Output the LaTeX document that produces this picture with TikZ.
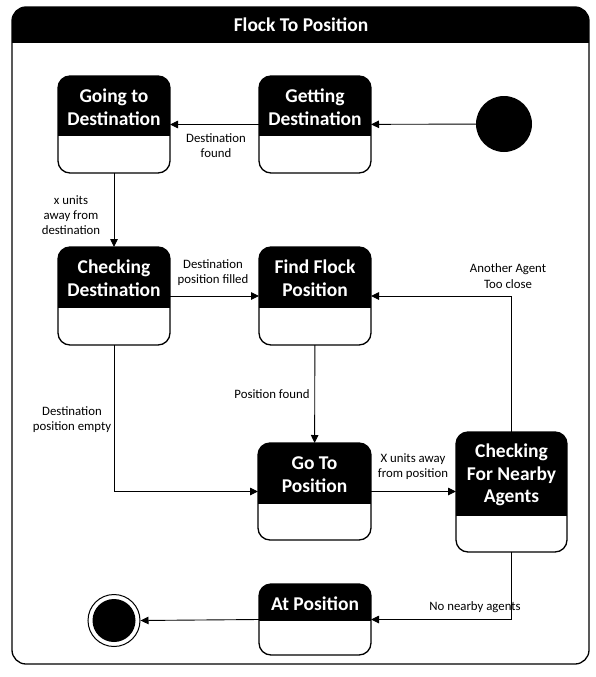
\documentclass[tikz,border=0pt]{standalone}
\usepackage{fontspec}
\setmainfont{Carlito}
\usetikzlibrary{arrows.meta}
\tikzset{
  arr/.style={line width=0.9pt,-{Triangle[length=8pt,width=7.5pt]}},
  lbl/.style={font=\fontsize{12.8}{15.2}\selectfont,align=center,inner sep=0pt},
  ttl/.style={font=\fontsize{19.5}{22.8}\selectfont\bfseries,text=white,align=center,inner sep=0pt},
  boxarea/.style={inner sep=0pt,outer sep=0pt,draw=none}
}
\newcommand\StateBox[7]{%
  \node[boxarea,minimum width={(#4-#2)*1pt},minimum height={(#5-#3)*1pt}] (#1) at ({(#2+#4)/2},{(#3+#5)/2}) {};
  \begin{scope}
    \clip[rounded corners=12pt] (#1.north west) rectangle (#1.south east);
    \fill[black] (#1.north west) rectangle (#4,#6);
  \end{scope}
  \draw[rounded corners=12pt,line width=1.3pt] (#1.north west) rectangle (#1.south east);
  \node[ttl] (#1-t) at ({(#2+#4)/2},{(#3+#6)/2+1}) {#7};
}
\begin{document}
\begin{tikzpicture}[x=1pt,y=-1pt]
\useasboundingbox (0,0) rectangle (596,677);
% frame
\node[boxarea,minimum width=577pt,minimum height=657pt] (frame) at (300.5,335.5) {};
\begin{scope}
  \clip[rounded corners=14pt] (frame.north west) rectangle (frame.south east);
  \fill[black] (frame.north west) rectangle (589,43);
\end{scope}
\draw[rounded corners=14pt,line width=1.3pt] (frame.north west) rectangle (frame.south east);
\node[ttl,font=\fontsize{19.5}{22}\selectfont\bfseries] (title) at (301,25) {Flock To Position};
% states
\StateBox{gotod}{58}{76}{170}{173}{136}{Going to\\Destination}
\StateBox{getd}{259}{76}{371}{173}{136}{Getting\\Destination}
\StateBox{chkd}{58}{247}{170}{345}{308}{Checking\\Destination}
\StateBox{find}{259}{247}{371}{345}{308}{Find Flock\\Position}
\StateBox{goto}{258}{443}{371}{540}{504}{Go To\\Position}
\StateBox{near}{456}{432}{567}{552}{516}{Checking\\For Nearby\\Agents}
\StateBox{atpos}{259}{584}{371}{655}{621}{At Position}
% start / end
\node[circle,fill=black,minimum size=56pt,inner sep=0pt] (start) at (504,124) {};
\node[circle,draw,line width=1pt,minimum size=52pt,inner sep=0pt] (endc) at (114,620.5) {};
\fill[black] (endc.center) circle (21.5);
% connectors
\draw[arr] (start) -- (getd);
\draw[arr] (getd) -- (gotod);
\draw[arr] (gotod) -- (chkd);
\draw[arr] (chkd) -- (find);
\draw[arr] (find) -- (goto);
\draw[arr] (chkd.south) |- (goto.west);
\draw[arr] (goto.east) -- (near.west |- goto.east);
\draw[arr] (near.north) |- (find.east);
\draw[arr] (near.south) |- (atpos.east);
\draw[arr] (atpos.west) -- (endc.east);
% labels
\node[lbl] (l1) at (216,145.5) {Destination\\found};
\node[lbl] (l2) at (71,215) {x units\\away from\\destination};
\node[lbl] (l3) at (213,273) {Destination\\position filled};
\node[lbl] (l4) at (508,276) {Another Agent\\Too close};
\node[lbl] (l5) at (272,394) {Position found};
\node[lbl] (l6) at (72,420) {Destination\\position empty};
\node[lbl] (l7) at (413,466.5) {X units away\\from position};
\node[lbl] (l8) at (475,607) {No nearby agents};
\end{tikzpicture}
\end{document}
